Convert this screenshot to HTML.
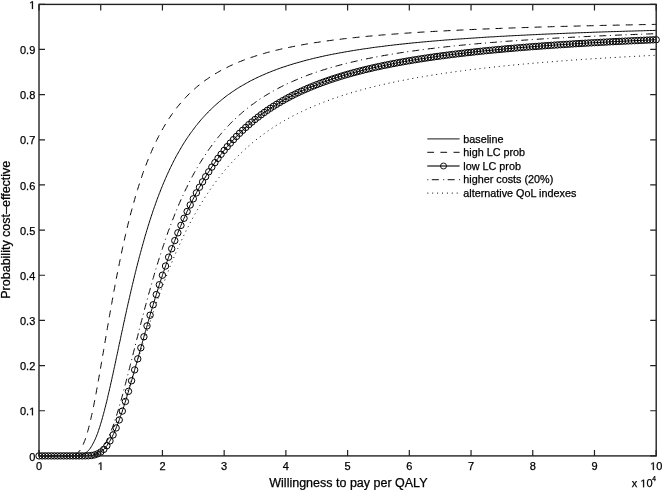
<!DOCTYPE html>
<html><head><meta charset="utf-8"><style>
html,body{margin:0;padding:0;background:#fff;}
body{width:662px;height:490px;overflow:hidden;}
svg{display:block;filter:grayscale(1);}
text{font-family:'Liberation Sans',sans-serif;fill:#000;stroke:#000;stroke-width:0.25px;}
</style></head><body>
<svg width="662" height="490" viewBox="0 0 662 490">
<rect x="0" y="0" width="662" height="490" fill="#fff"/>

<polyline fill="none" stroke="#000" stroke-width="1.0" stroke-linejoin="round" points="39.0,455.9 40.5,455.9 42.0,455.9 43.5,455.9 45.0,455.9 46.5,455.9 48.0,455.9 49.5,455.9 51.0,455.9 52.5,455.9 54.0,455.9 55.5,455.9 57.0,455.9 58.5,455.9 60.0,455.9 61.5,455.9 63.0,455.9 64.5,455.9 66.0,455.9 67.5,455.9 69.0,455.9 70.5,455.9 72.0,455.9 73.5,455.8 75.0,455.8 76.5,455.7 78.0,455.6 79.5,455.4 80.9,455.0 82.4,454.6 83.8,454.0 85.1,453.3 86.3,452.4 87.4,451.5 88.5,450.4 89.5,449.3 90.4,448.1 91.2,446.8 92.0,445.5 92.7,444.2 93.4,442.9 94.1,441.6 94.7,440.2 95.4,438.8 95.9,437.5 96.5,436.1 97.0,434.7 97.6,433.3 98.1,431.8 98.6,430.4 99.0,429.0 99.5,427.6 100.0,426.2 100.4,424.7 100.8,423.3 101.3,421.9 101.7,420.4 102.1,419.0 102.5,417.5 102.9,416.1 103.3,414.6 103.7,413.2 104.1,411.7 104.5,410.3 104.8,408.8 105.2,407.4 105.6,405.9 105.9,404.5 106.3,403.0 106.7,401.6 107.0,400.1 107.4,398.6 107.7,397.2 108.0,395.7 108.4,394.3 108.7,392.8 109.1,391.3 109.4,389.9 109.7,388.4 110.1,386.9 110.4,385.5 110.7,384.0 111.0,382.6 111.4,381.1 111.7,379.6 112.0,378.2 112.3,376.7 112.7,375.2 113.0,373.8 113.3,372.3 113.6,370.8 113.9,369.4 114.2,367.9 114.6,366.4 114.9,365.0 115.2,363.5 115.5,362.0 115.8,360.6 116.1,359.1 116.4,357.6 116.7,356.2 117.1,354.7 117.4,353.2 117.7,351.8 118.0,350.3 118.3,348.8 118.6,347.4 118.9,345.9 119.2,344.4 119.5,343.0 119.9,341.5 120.2,340.0 120.5,338.6 120.8,337.1 121.1,335.6 121.4,334.2 121.7,332.7 122.0,331.2 122.4,329.8 122.7,328.3 123.0,326.8 123.3,325.4 123.6,323.9 123.9,322.4 124.3,321.0 124.6,319.5 124.9,318.0 125.2,316.6 125.5,315.1 125.9,313.6 126.2,312.2 126.5,310.7 126.8,309.2 127.1,307.8 127.5,306.3 127.8,304.8 128.1,303.4 128.5,301.9 128.8,300.4 129.1,299.0 129.5,297.5 129.8,296.1 130.1,294.6 130.5,293.1 130.8,291.7 131.1,290.2 131.5,288.8 131.8,287.3 132.2,285.8 132.5,284.4 132.9,282.9 133.2,281.5 133.6,280.0 133.9,278.5 134.3,277.1 134.6,275.6 135.0,274.2 135.3,272.7 135.7,271.3 136.1,269.8 136.4,268.3 136.8,266.9 137.2,265.4 137.5,264.0 137.9,262.5 138.3,261.1 138.7,259.6 139.0,258.2 139.4,256.7 139.8,255.3 140.2,253.8 140.6,252.4 141.0,250.9 141.4,249.5 141.8,248.0 142.2,246.6 142.6,245.1 143.0,243.7 143.4,242.3 143.8,240.8 144.2,239.4 144.6,237.9 145.0,236.5 145.4,235.0 145.9,233.6 146.3,232.2 146.7,230.7 147.2,229.3 147.6,227.9 148.0,226.4 148.5,225.0 148.9,223.6 149.4,222.1 149.8,220.7 150.3,219.3 150.8,217.8 151.2,216.4 151.7,215.0 152.2,213.6 152.6,212.2 153.1,210.7 153.6,209.3 154.1,207.9 154.6,206.5 155.1,205.1 155.6,203.6 156.1,202.2 156.6,200.8 157.1,199.4 157.6,198.0 158.2,196.6 158.7,195.2 159.2,193.8 159.8,192.4 160.3,191.0 160.9,189.6 161.4,188.2 162.0,186.8 162.6,185.4 163.1,184.1 163.7,182.7 164.3,181.3 164.9,179.9 165.5,178.5 166.1,177.2 166.7,175.8 167.3,174.4 167.9,173.1 168.6,171.7 169.2,170.3 169.8,169.0 170.5,167.6 171.1,166.3 171.8,164.9 172.5,163.6 173.1,162.2 173.8,160.9 174.5,159.6 175.2,158.2 175.9,156.9 176.6,155.6 177.3,154.3 178.1,153.0 178.8,151.7 179.6,150.4 180.3,149.1 181.1,147.8 181.8,146.5 182.6,145.2 183.4,143.9 184.2,142.7 185.0,141.4 185.8,140.1 186.6,138.9 187.5,137.6 188.3,136.4 189.2,135.2 190.0,133.9 190.9,132.7 191.8,131.5 192.7,130.3 193.6,129.1 194.5,127.9 195.4,126.7 196.3,125.5 197.3,124.4 198.2,123.2 199.2,122.0 200.1,120.9 201.1,119.7 202.1,118.6 203.1,117.5 204.1,116.4 205.1,115.3 206.1,114.2 207.2,113.1 208.2,112.0 209.3,111.0 210.3,109.9 211.4,108.9 212.5,107.8 213.6,106.8 214.7,105.8 215.8,104.8 216.9,103.8 218.1,102.8 219.2,101.8 220.4,100.9 221.5,99.9 222.7,99.0 223.9,98.0 225.0,97.1 226.2,96.2 227.4,95.3 228.6,94.4 229.9,93.6 231.1,92.7 232.3,91.8 233.6,91.0 234.8,90.2 236.1,89.3 237.3,88.5 238.6,87.7 239.9,86.9 241.2,86.2 242.5,85.4 243.8,84.7 245.1,83.9 246.4,83.2 247.7,82.5 249.0,81.7 250.3,81.0 251.7,80.3 253.0,79.7 254.3,79.0 255.7,78.3 257.0,77.7 258.4,77.0 259.7,76.4 261.1,75.8 262.5,75.2 263.9,74.6 265.2,74.0 266.6,73.4 268.0,72.8 269.4,72.3 270.8,71.7 272.2,71.1 273.6,70.6 275.0,70.1 276.4,69.5 277.8,69.0 279.2,68.5 280.6,68.0 282.0,67.5 283.4,67.0 284.9,66.6 286.3,66.1 287.7,65.6 289.2,65.2 290.6,64.7 292.0,64.3 293.5,63.8 294.9,63.4 296.3,63.0 297.8,62.6 299.2,62.2 300.7,61.8 302.1,61.4 303.5,61.0 305.0,60.6 306.4,60.2 307.9,59.8 309.4,59.5 310.8,59.1 312.3,58.7 313.7,58.4 315.2,58.0 316.6,57.7 318.1,57.4 319.6,57.0 321.0,56.7 322.5,56.4 324.0,56.0 325.4,55.7 326.9,55.4 328.4,55.1 329.8,54.8 331.3,54.5 332.8,54.2 334.2,53.9 335.7,53.7 337.2,53.4 338.7,53.1 340.1,52.8 341.6,52.6 343.1,52.3 344.6,52.0 346.1,51.8 347.5,51.5 349.0,51.3 350.5,51.0 352.0,50.8 353.4,50.5 354.9,50.3 356.4,50.0 357.9,49.8 359.4,49.6 360.9,49.4 362.3,49.1 363.8,48.9 365.3,48.7 366.8,48.5 368.3,48.3 369.8,48.1 371.2,47.8 372.7,47.6 374.2,47.4 375.7,47.2 377.2,47.0 378.7,46.8 380.2,46.7 381.7,46.5 383.1,46.3 384.6,46.1 386.1,45.9 387.6,45.7 389.1,45.5 390.6,45.4 392.1,45.2 393.6,45.0 395.1,44.8 396.5,44.7 398.0,44.5 399.5,44.3 401.0,44.2 402.5,44.0 404.0,43.9 405.5,43.7 407.0,43.5 408.5,43.4 410.0,43.2 411.5,43.1 413.0,42.9 414.4,42.8 415.9,42.6 417.4,42.5 418.9,42.4 420.4,42.2 421.9,42.1 423.4,41.9 424.9,41.8 426.4,41.7 427.9,41.5 429.4,41.4 430.9,41.3 432.4,41.1 433.9,41.0 435.4,40.9 436.9,40.8 438.4,40.6 439.8,40.5 441.3,40.4 442.8,40.3 444.3,40.1 445.8,40.0 447.3,39.9 448.8,39.8 450.3,39.7 451.8,39.6 453.3,39.4 454.8,39.3 456.3,39.2 457.8,39.1 459.3,39.0 460.8,38.9 462.3,38.8 463.8,38.7 465.3,38.6 466.8,38.5 468.3,38.4 469.8,38.3 471.3,38.2 472.8,38.1 474.3,38.0 475.7,37.9 477.2,37.8 478.7,37.7 480.2,37.6 481.7,37.5 483.2,37.4 484.7,37.3 486.2,37.2 487.7,37.1 489.2,37.0 490.7,36.9 492.2,36.9 493.7,36.8 495.2,36.7 496.7,36.6 498.2,36.5 499.7,36.4 501.2,36.3 502.7,36.3 504.2,36.2 505.7,36.1 507.2,36.0 508.7,35.9 510.2,35.8 511.7,35.8 513.2,35.7 514.7,35.6 516.2,35.5 517.7,35.5 519.2,35.4 520.7,35.3 522.2,35.2 523.7,35.2 525.2,35.1 526.7,35.0 528.2,34.9 529.7,34.9 531.2,34.8 532.7,34.7 534.2,34.7 535.7,34.6 537.2,34.5 538.7,34.4 540.2,34.4 541.7,34.3 543.1,34.2 544.6,34.2 546.1,34.1 547.6,34.0 549.1,34.0 550.6,33.9 552.1,33.9 553.6,33.8 555.1,33.7 556.6,33.7 558.1,33.6 559.6,33.5 561.1,33.5 562.6,33.4 564.1,33.4 565.6,33.3 567.1,33.2 568.6,33.2 570.1,33.1 571.6,33.1 573.1,33.0 574.6,33.0 576.1,32.9 577.6,32.8 579.1,32.8 580.6,32.7 582.1,32.7 583.6,32.6 585.1,32.6 586.6,32.5 588.1,32.5 589.6,32.4 591.1,32.4 592.6,32.3 594.1,32.2 595.6,32.2 597.1,32.1 598.6,32.1 600.1,32.0 601.6,32.0 603.1,31.9 604.6,31.9 606.1,31.8 607.6,31.8 609.1,31.7 610.6,31.7 612.1,31.6 613.6,31.6 615.1,31.6 616.6,31.5 618.1,31.5 619.6,31.4 621.1,31.4 622.6,31.3 624.1,31.3 625.6,31.2 627.1,31.2 628.6,31.1 630.1,31.1 631.6,31.1 633.1,31.0 634.6,31.0 636.1,30.9 637.6,30.9 639.1,30.8 640.6,30.8 642.1,30.8 643.6,30.7 645.1,30.7 646.6,30.6 648.1,30.6 649.6,30.5 651.1,30.5 652.6,30.5 654.1,30.4 655.6,30.4 656.2,30.4"/>
<polyline fill="none" stroke="#000" stroke-width="1.0" stroke-linejoin="round" stroke-dasharray="7 6.03" stroke-dashoffset="2.86" points="39.0,455.9 40.5,455.9 42.0,455.9 43.5,455.9 45.0,455.9 46.5,455.9 48.0,455.9 49.5,455.9 51.0,455.9 52.5,455.9 54.0,455.9 55.5,455.9 57.0,455.9 58.5,455.9 60.0,455.9 61.5,455.9 63.0,455.9 64.5,455.9 66.0,455.9 67.5,455.9 69.0,455.8 70.5,455.7 72.0,455.5 73.4,455.2 74.9,454.7 76.2,454.0 77.4,453.2 78.5,452.1 79.5,451.0 80.4,449.8 81.2,448.5 81.9,447.2 82.6,445.9 83.2,444.5 83.8,443.1 84.3,441.7 84.9,440.3 85.4,438.9 85.8,437.5 86.3,436.1 86.8,434.6 87.2,433.2 87.6,431.7 88.0,430.3 88.4,428.9 88.8,427.4 89.1,426.0 89.5,424.5 89.9,423.0 90.2,421.6 90.6,420.1 90.9,418.7 91.2,417.2 91.5,415.7 91.9,414.3 92.2,412.8 92.5,411.3 92.8,409.9 93.1,408.4 93.4,406.9 93.7,405.5 94.0,404.0 94.3,402.5 94.6,401.0 94.9,399.6 95.1,398.1 95.4,396.6 95.7,395.1 96.0,393.7 96.3,392.2 96.5,390.7 96.8,389.2 97.1,387.8 97.3,386.3 97.6,384.8 97.9,383.3 98.1,381.9 98.4,380.4 98.7,378.9 98.9,377.4 99.2,376.0 99.4,374.5 99.7,373.0 100.0,371.5 100.2,370.0 100.5,368.6 100.7,367.1 101.0,365.6 101.2,364.1 101.5,362.7 101.7,361.2 102.0,359.7 102.2,358.2 102.5,356.7 102.7,355.3 103.0,353.8 103.3,352.3 103.5,350.8 103.8,349.3 104.0,347.9 104.3,346.4 104.5,344.9 104.8,343.4 105.0,342.0 105.3,340.5 105.5,339.0 105.8,337.5 106.0,336.0 106.3,334.6 106.5,333.1 106.8,331.6 107.0,330.1 107.3,328.6 107.5,327.2 107.8,325.7 108.1,324.2 108.3,322.7 108.6,321.3 108.8,319.8 109.1,318.3 109.3,316.8 109.6,315.3 109.9,313.9 110.1,312.4 110.4,310.9 110.6,309.4 110.9,308.0 111.2,306.5 111.4,305.0 111.7,303.5 112.0,302.1 112.2,300.6 112.5,299.1 112.8,297.6 113.0,296.2 113.3,294.7 113.6,293.2 113.8,291.7 114.1,290.3 114.4,288.8 114.7,287.3 114.9,285.8 115.2,284.4 115.5,282.9 115.8,281.4 116.1,279.9 116.3,278.5 116.6,277.0 116.9,275.5 117.2,274.0 117.5,272.6 117.8,271.1 118.1,269.6 118.4,268.2 118.7,266.7 119.0,265.2 119.3,263.7 119.6,262.3 119.9,260.8 120.2,259.3 120.5,257.9 120.8,256.4 121.1,254.9 121.4,253.5 121.7,252.0 122.0,250.5 122.3,249.1 122.6,247.6 123.0,246.1 123.3,244.7 123.6,243.2 123.9,241.7 124.3,240.3 124.6,238.8 124.9,237.3 125.3,235.9 125.6,234.4 126.0,233.0 126.3,231.5 126.6,230.0 127.0,228.6 127.3,227.1 127.7,225.7 128.0,224.2 128.4,222.8 128.8,221.3 129.1,219.8 129.5,218.4 129.9,216.9 130.2,215.5 130.6,214.0 131.0,212.6 131.4,211.1 131.8,209.7 132.2,208.2 132.6,206.8 133.0,205.3 133.4,203.9 133.8,202.5 134.2,201.0 134.6,199.6 135.0,198.1 135.4,196.7 135.8,195.2 136.3,193.8 136.7,192.4 137.1,190.9 137.6,189.5 138.0,188.1 138.5,186.6 138.9,185.2 139.4,183.8 139.9,182.4 140.3,180.9 140.8,179.5 141.3,178.1 141.8,176.7 142.2,175.2 142.7,173.8 143.2,172.4 143.7,171.0 144.3,169.6 144.8,168.2 145.3,166.8 145.8,165.4 146.4,164.0 146.9,162.6 147.5,161.2 148.0,159.8 148.6,158.4 149.1,157.0 149.7,155.6 150.3,154.2 150.9,152.9 151.5,151.5 152.1,150.1 152.7,148.7 153.3,147.4 153.9,146.0 154.6,144.6 155.2,143.3 155.9,141.9 156.5,140.6 157.2,139.2 157.9,137.9 158.5,136.6 159.2,135.2 159.9,133.9 160.6,132.6 161.4,131.3 162.1,130.0 162.8,128.7 163.6,127.4 164.3,126.1 165.1,124.8 165.9,123.5 166.7,122.2 167.5,121.0 168.3,119.7 169.1,118.4 169.9,117.2 170.8,116.0 171.6,114.7 172.5,113.5 173.4,112.3 174.3,111.1 175.2,109.9 176.1,108.7 177.0,107.5 177.9,106.3 178.9,105.2 179.8,104.0 180.8,102.9 181.8,101.7 182.8,100.6 183.8,99.5 184.8,98.4 185.8,97.3 186.9,96.2 187.9,95.1 189.0,94.1 190.1,93.0 191.1,92.0 192.2,91.0 193.3,90.0 194.5,89.0 195.6,88.0 196.7,87.0 197.9,86.0 199.1,85.1 200.2,84.2 201.4,83.2 202.6,82.3 203.8,81.4 205.0,80.5 206.2,79.7 207.5,78.8 208.7,78.0 209.9,77.1 211.2,76.3 212.5,75.5 213.7,74.7 215.0,73.9 216.3,73.2 217.6,72.4 218.9,71.7 220.2,70.9 221.5,70.2 222.9,69.5 224.2,68.8 225.5,68.1 226.9,67.5 228.2,66.8 229.6,66.1 230.9,65.5 232.3,64.9 233.7,64.3 235.0,63.7 236.4,63.1 237.8,62.5 239.2,61.9 240.6,61.4 242.0,60.8 243.4,60.3 244.8,59.7 246.2,59.2 247.6,58.7 249.0,58.2 250.4,57.7 251.8,57.2 253.3,56.8 254.7,56.3 256.1,55.8 257.5,55.4 259.0,54.9 260.4,54.5 261.8,54.1 263.3,53.7 264.7,53.3 266.2,52.8 267.6,52.4 269.1,52.1 270.5,51.7 272.0,51.3 273.4,50.9 274.9,50.6 276.3,50.2 277.8,49.9 279.3,49.5 280.7,49.2 282.2,48.8 283.6,48.5 285.1,48.2 286.6,47.9 288.0,47.6 289.5,47.3 291.0,47.0 292.4,46.7 293.9,46.4 295.4,46.1 296.9,45.8 298.3,45.5 299.8,45.2 301.3,45.0 302.8,44.7 304.2,44.5 305.7,44.2 307.2,43.9 308.7,43.7 310.2,43.4 311.6,43.2 313.1,43.0 314.6,42.7 316.1,42.5 317.6,42.3 319.1,42.1 320.5,41.8 322.0,41.6 323.5,41.4 325.0,41.2 326.5,41.0 328.0,40.8 329.4,40.6 330.9,40.4 332.4,40.2 333.9,40.0 335.4,39.8 336.9,39.6 338.4,39.4 339.9,39.3 341.4,39.1 342.8,38.9 344.3,38.7 345.8,38.6 347.3,38.4 348.8,38.2 350.3,38.1 351.8,37.9 353.3,37.7 354.8,37.6 356.3,37.4 357.8,37.3 359.2,37.1 360.7,37.0 362.2,36.8 363.7,36.7 365.2,36.5 366.7,36.4 368.2,36.2 369.7,36.1 371.2,36.0 372.7,35.8 374.2,35.7 375.7,35.6 377.2,35.4 378.7,35.3 380.2,35.2 381.6,35.0 383.1,34.9 384.6,34.8 386.1,34.7 387.6,34.6 389.1,34.4 390.6,34.3 392.1,34.2 393.6,34.1 395.1,34.0 396.6,33.9 398.1,33.8 399.6,33.6 401.1,33.5 402.6,33.4 404.1,33.3 405.6,33.2 407.1,33.1 408.6,33.0 410.1,32.9 411.6,32.8 413.1,32.7 414.6,32.6 416.1,32.5 417.6,32.4 419.0,32.3 420.5,32.2 422.0,32.1 423.5,32.0 425.0,32.0 426.5,31.9 428.0,31.8 429.5,31.7 431.0,31.6 432.5,31.5 434.0,31.4 435.5,31.3 437.0,31.3 438.5,31.2 440.0,31.1 441.5,31.0 443.0,30.9 444.5,30.9 446.0,30.8 447.5,30.7 449.0,30.6 450.5,30.6 452.0,30.5 453.5,30.4 455.0,30.3 456.5,30.3 458.0,30.2 459.5,30.1 461.0,30.0 462.5,30.0 464.0,29.9 465.5,29.8 467.0,29.8 468.5,29.7 470.0,29.6 471.5,29.6 473.0,29.5 474.5,29.4 476.0,29.4 477.5,29.3 479.0,29.2 480.5,29.2 482.0,29.1 483.5,29.0 485.0,29.0 486.5,28.9 488.0,28.9 489.5,28.8 491.0,28.7 492.5,28.7 494.0,28.6 495.5,28.6 497.0,28.5 498.5,28.5 500.0,28.4 501.5,28.3 503.0,28.3 504.4,28.2 505.9,28.2 507.4,28.1 508.9,28.1 510.4,28.0 511.9,28.0 513.4,27.9 514.9,27.9 516.4,27.8 517.9,27.8 519.4,27.7 520.9,27.7 522.4,27.6 523.9,27.6 525.4,27.5 526.9,27.5 528.4,27.4 529.9,27.4 531.4,27.3 532.9,27.3 534.4,27.2 535.9,27.2 537.4,27.1 538.9,27.1 540.4,27.0 541.9,27.0 543.4,26.9 544.9,26.9 546.4,26.9 547.9,26.8 549.4,26.8 550.9,26.7 552.4,26.7 553.9,26.6 555.4,26.6 556.9,26.6 558.4,26.5 559.9,26.5 561.4,26.4 562.9,26.4 564.4,26.4 565.9,26.3 567.4,26.3 568.9,26.2 570.4,26.2 571.9,26.2 573.4,26.1 574.9,26.1 576.4,26.1 577.9,26.0 579.4,26.0 580.9,25.9 582.4,25.9 583.9,25.9 585.4,25.8 586.9,25.8 588.4,25.8 589.9,25.7 591.4,25.7 592.9,25.7 594.4,25.6 595.9,25.6 597.4,25.5 598.9,25.5 600.4,25.5 601.9,25.4 603.4,25.4 604.9,25.4 606.4,25.3 607.9,25.3 609.4,25.3 610.9,25.3 612.4,25.2 613.9,25.2 615.4,25.2 616.9,25.1 618.4,25.1 619.9,25.1 621.4,25.0 622.9,25.0 624.4,25.0 625.9,24.9 627.4,24.9 628.9,24.9 630.4,24.9 631.9,24.8 633.4,24.8 634.9,24.8 636.4,24.7 637.9,24.7 639.4,24.7 640.9,24.6 642.4,24.6 643.9,24.6 645.4,24.6 646.9,24.5 648.4,24.5 649.9,24.5 651.4,24.5 652.9,24.4 654.4,24.4 655.9,24.4 656.2,24.4"/>
<polyline fill="none" stroke="#000" stroke-width="1.0" stroke-linejoin="round" stroke-dasharray="7 3.6 1 4.05" stroke-dashoffset="8.20" points="39.0,455.9 40.5,455.9 42.0,455.9 43.5,455.9 45.0,455.9 46.5,455.9 48.0,455.9 49.5,455.9 51.0,455.9 52.5,455.9 54.0,455.9 55.5,455.9 57.0,455.9 58.5,455.9 60.0,455.9 61.5,455.9 63.0,455.9 64.5,455.9 66.0,455.9 67.5,455.9 69.0,455.9 70.5,455.9 72.0,455.9 73.5,455.9 75.0,455.9 76.5,455.9 78.0,455.9 79.5,455.9 81.0,455.9 82.5,455.9 84.0,455.9 85.5,455.8 87.0,455.8 88.5,455.7 90.0,455.5 91.5,455.2 92.9,454.8 94.3,454.3 95.7,453.7 97.0,453.0 98.2,452.1 99.4,451.1 100.4,450.1 101.4,449.0 102.4,447.8 103.3,446.6 104.1,445.4 104.9,444.1 105.7,442.8 106.4,441.5 107.1,440.1 107.7,438.8 108.4,437.4 109.0,436.1 109.6,434.7 110.2,433.3 110.8,431.9 111.3,430.5 111.8,429.1 112.4,427.7 112.9,426.3 113.4,424.9 113.9,423.5 114.4,422.1 114.9,420.7 115.3,419.2 115.8,417.8 116.3,416.4 116.7,415.0 117.2,413.5 117.6,412.1 118.0,410.7 118.5,409.2 118.9,407.8 119.3,406.3 119.7,404.9 120.1,403.5 120.6,402.0 121.0,400.6 121.4,399.1 121.8,397.7 122.2,396.2 122.6,394.8 123.0,393.3 123.4,391.9 123.7,390.4 124.1,389.0 124.5,387.5 124.9,386.1 125.3,384.6 125.7,383.2 126.0,381.7 126.4,380.3 126.8,378.8 127.2,377.4 127.5,375.9 127.9,374.5 128.3,373.0 128.7,371.6 129.0,370.1 129.4,368.7 129.8,367.2 130.1,365.8 130.5,364.3 130.9,362.9 131.2,361.4 131.6,359.9 132.0,358.5 132.3,357.0 132.7,355.6 133.1,354.1 133.4,352.7 133.8,351.2 134.2,349.8 134.5,348.3 134.9,346.9 135.3,345.4 135.6,343.9 136.0,342.5 136.4,341.0 136.7,339.6 137.1,338.1 137.5,336.7 137.9,335.2 138.2,333.8 138.6,332.3 139.0,330.9 139.3,329.4 139.7,328.0 140.1,326.5 140.5,325.0 140.8,323.6 141.2,322.1 141.6,320.7 142.0,319.2 142.3,317.8 142.7,316.3 143.1,314.9 143.5,313.4 143.9,312.0 144.2,310.5 144.6,309.1 145.0,307.6 145.4,306.2 145.8,304.7 146.2,303.3 146.6,301.8 147.0,300.4 147.4,298.9 147.8,297.5 148.1,296.0 148.5,294.6 148.9,293.2 149.4,291.7 149.8,290.3 150.2,288.8 150.6,287.4 151.0,285.9 151.4,284.5 151.8,283.1 152.2,281.6 152.6,280.2 153.0,278.7 153.5,277.3 153.9,275.8 154.3,274.4 154.7,273.0 155.2,271.5 155.6,270.1 156.0,268.7 156.5,267.2 156.9,265.8 157.3,264.4 157.8,262.9 158.2,261.5 158.7,260.1 159.1,258.6 159.6,257.2 160.0,255.8 160.5,254.3 161.0,252.9 161.4,251.5 161.9,250.1 162.4,248.6 162.8,247.2 163.3,245.8 163.8,244.4 164.3,242.9 164.7,241.5 165.2,240.1 165.7,238.7 166.2,237.3 166.7,235.9 167.2,234.4 167.7,233.0 168.2,231.6 168.7,230.2 169.3,228.8 169.8,227.4 170.3,226.0 170.8,224.6 171.4,223.2 171.9,221.8 172.4,220.4 173.0,219.0 173.5,217.6 174.1,216.2 174.6,214.8 175.2,213.4 175.8,212.0 176.3,210.6 176.9,209.2 177.5,207.9 178.1,206.5 178.6,205.1 179.2,203.7 179.8,202.3 180.4,201.0 181.0,199.6 181.7,198.2 182.3,196.9 182.9,195.5 183.5,194.1 184.2,192.8 184.8,191.4 185.4,190.1 186.1,188.7 186.8,187.4 187.4,186.0 188.1,184.7 188.8,183.3 189.4,182.0 190.1,180.7 190.8,179.3 191.5,178.0 192.2,176.7 192.9,175.4 193.6,174.0 194.4,172.7 195.1,171.4 195.8,170.1 196.6,168.8 197.3,167.5 198.1,166.2 198.9,164.9 199.6,163.6 200.4,162.4 201.2,161.1 202.0,159.8 202.8,158.6 203.6,157.3 204.4,156.0 205.3,154.8 206.1,153.5 206.9,152.3 207.8,151.1 208.6,149.8 209.5,148.6 210.4,147.4 211.3,146.2 212.1,145.0 213.0,143.8 214.0,142.6 214.9,141.4 215.8,140.2 216.7,139.0 217.7,137.8 218.6,136.7 219.6,135.5 220.5,134.4 221.5,133.2 222.5,132.1 223.5,131.0 224.5,129.9 225.5,128.7 226.5,127.6 227.5,126.5 228.6,125.5 229.6,124.4 230.6,123.3 231.7,122.2 232.8,121.2 233.8,120.1 234.9,119.1 236.0,118.1 237.1,117.1 238.2,116.0 239.3,115.0 240.5,114.1 241.6,113.1 242.7,112.1 243.9,111.1 245.0,110.2 246.2,109.2 247.4,108.3 248.6,107.4 249.7,106.4 250.9,105.5 252.1,104.6 253.4,103.8 254.6,102.9 255.8,102.0 257.0,101.1 258.3,100.3 259.5,99.4 260.7,98.6 262.0,97.8 263.3,97.0 264.5,96.2 265.8,95.4 267.1,94.6 268.4,93.8 269.7,93.1 271.0,92.3 272.3,91.6 273.6,90.8 274.9,90.1 276.2,89.4 277.5,88.7 278.8,88.0 280.2,87.3 281.5,86.6 282.9,85.9 284.2,85.3 285.5,84.6 286.9,84.0 288.3,83.3 289.6,82.7 291.0,82.1 292.4,81.5 293.7,80.9 295.1,80.3 296.5,79.7 297.9,79.1 299.3,78.5 300.6,78.0 302.0,77.4 303.4,76.9 304.8,76.3 306.2,75.8 307.6,75.3 309.0,74.7 310.5,74.2 311.9,73.7 313.3,73.2 314.7,72.7 316.1,72.3 317.5,71.8 319.0,71.3 320.4,70.8 321.8,70.4 323.2,69.9 324.7,69.5 326.1,69.0 327.5,68.6 329.0,68.2 330.4,67.7 331.9,67.3 333.3,66.9 334.8,66.5 336.2,66.1 337.6,65.7 339.1,65.3 340.5,64.9 342.0,64.6 343.4,64.2 344.9,63.8 346.4,63.4 347.8,63.1 349.3,62.7 350.7,62.4 352.2,62.0 353.6,61.7 355.1,61.4 356.6,61.0 358.0,60.7 359.5,60.4 361.0,60.0 362.4,59.7 363.9,59.4 365.4,59.1 366.8,58.8 368.3,58.5 369.8,58.2 371.2,57.9 372.7,57.6 374.2,57.3 375.7,57.1 377.1,56.8 378.6,56.5 380.1,56.2 381.6,56.0 383.0,55.7 384.5,55.4 386.0,55.2 387.5,54.9 388.9,54.7 390.4,54.4 391.9,54.2 393.4,53.9 394.9,53.7 396.3,53.4 397.8,53.2 399.3,53.0 400.8,52.7 402.3,52.5 403.8,52.3 405.2,52.1 406.7,51.8 408.2,51.6 409.7,51.4 411.2,51.2 412.7,51.0 414.1,50.8 415.6,50.6 417.1,50.4 418.6,50.2 420.1,50.0 421.6,49.8 423.1,49.6 424.6,49.4 426.0,49.2 427.5,49.0 429.0,48.8 430.5,48.6 432.0,48.5 433.5,48.3 435.0,48.1 436.5,47.9 438.0,47.7 439.4,47.6 440.9,47.4 442.4,47.2 443.9,47.1 445.4,46.9 446.9,46.7 448.4,46.6 449.9,46.4 451.4,46.3 452.9,46.1 454.4,45.9 455.8,45.8 457.3,45.6 458.8,45.5 460.3,45.3 461.8,45.2 463.3,45.0 464.8,44.9 466.3,44.7 467.8,44.6 469.3,44.5 470.8,44.3 472.3,44.2 473.8,44.0 475.3,43.9 476.8,43.8 478.2,43.6 479.7,43.5 481.2,43.4 482.7,43.2 484.2,43.1 485.7,43.0 487.2,42.9 488.7,42.7 490.2,42.6 491.7,42.5 493.2,42.4 494.7,42.3 496.2,42.1 497.7,42.0 499.2,41.9 500.7,41.8 502.2,41.7 503.7,41.6 505.2,41.4 506.7,41.3 508.1,41.2 509.6,41.1 511.1,41.0 512.6,40.9 514.1,40.8 515.6,40.7 517.1,40.6 518.6,40.5 520.1,40.4 521.6,40.3 523.1,40.2 524.6,40.1 526.1,40.0 527.6,39.9 529.1,39.8 530.6,39.7 532.1,39.6 533.6,39.5 535.1,39.4 536.6,39.3 538.1,39.2 539.6,39.1 541.1,39.0 542.6,38.9 544.1,38.8 545.6,38.7 547.1,38.6 548.6,38.6 550.1,38.5 551.6,38.4 553.1,38.3 554.5,38.2 556.0,38.1 557.5,38.0 559.0,38.0 560.5,37.9 562.0,37.8 563.5,37.7 565.0,37.6 566.5,37.5 568.0,37.5 569.5,37.4 571.0,37.3 572.5,37.2 574.0,37.2 575.5,37.1 577.0,37.0 578.5,36.9 580.0,36.9 581.5,36.8 583.0,36.7 584.5,36.6 586.0,36.6 587.5,36.5 589.0,36.4 590.5,36.3 592.0,36.3 593.5,36.2 595.0,36.1 596.5,36.1 598.0,36.0 599.5,35.9 601.0,35.9 602.5,35.8 604.0,35.7 605.5,35.7 607.0,35.6 608.5,35.5 610.0,35.5 611.5,35.4 613.0,35.3 614.5,35.3 616.0,35.2 617.5,35.1 619.0,35.1 620.5,35.0 622.0,35.0 623.5,34.9 625.0,34.8 626.5,34.8 628.0,34.7 629.5,34.7 631.0,34.6 632.5,34.5 634.0,34.5 635.5,34.4 637.0,34.4 638.5,34.3 640.0,34.3 641.5,34.2 643.0,34.1 644.5,34.1 646.0,34.0 647.5,34.0 648.9,33.9 650.4,33.9 651.9,33.8 653.4,33.8 654.9,33.7 656.2,33.7"/>
<polyline fill="none" stroke="#000" stroke-width="1.0" stroke-linejoin="round" stroke-dasharray="1 3.85" stroke-dashoffset="2.71" points="39.0,455.9 40.5,455.9 42.0,455.9 43.5,455.9 45.0,455.9 46.5,455.9 48.0,455.9 49.5,455.9 51.0,455.9 52.5,455.9 54.0,455.9 55.5,455.9 57.0,455.9 58.5,455.9 60.0,455.9 61.5,455.9 63.0,455.9 64.5,455.9 66.0,455.9 67.5,455.9 69.0,455.9 70.5,455.9 72.0,455.9 73.5,455.9 75.0,455.9 76.5,455.9 78.0,455.9 79.5,455.9 81.0,455.8 82.5,455.8 84.0,455.7 85.5,455.6 87.0,455.5 88.5,455.3 89.9,455.0 91.4,454.6 92.8,454.1 94.2,453.6 95.6,452.9 96.8,452.1 98.1,451.3 99.3,450.4 100.4,449.4 101.4,448.3 102.5,447.2 103.4,446.1 104.4,444.9 105.3,443.7 106.1,442.4 106.9,441.2 107.7,439.9 108.5,438.6 109.2,437.3 110.0,436.0 110.7,434.7 111.3,433.4 112.0,432.0 112.7,430.7 113.3,429.3 113.9,427.9 114.5,426.6 115.1,425.2 115.7,423.8 116.3,422.4 116.9,421.1 117.5,419.7 118.0,418.3 118.6,416.9 119.1,415.5 119.7,414.1 120.2,412.7 120.7,411.3 121.2,409.9 121.7,408.5 122.3,407.0 122.8,405.6 123.3,404.2 123.8,402.8 124.3,401.4 124.7,400.0 125.2,398.6 125.7,397.1 126.2,395.7 126.7,394.3 127.2,392.9 127.6,391.4 128.1,390.0 128.6,388.6 129.0,387.2 129.5,385.7 130.0,384.3 130.4,382.9 130.9,381.5 131.4,380.0 131.8,378.6 132.3,377.2 132.7,375.8 133.2,374.3 133.7,372.9 134.1,371.5 134.6,370.0 135.0,368.6 135.5,367.2 135.9,365.8 136.4,364.3 136.8,362.9 137.3,361.5 137.7,360.0 138.2,358.6 138.7,357.2 139.1,355.7 139.6,354.3 140.0,352.9 140.5,351.5 140.9,350.0 141.4,348.6 141.8,347.2 142.3,345.7 142.7,344.3 143.2,342.9 143.7,341.4 144.1,340.0 144.6,338.6 145.0,337.2 145.5,335.7 146.0,334.3 146.4,332.9 146.9,331.5 147.3,330.0 147.8,328.6 148.3,327.2 148.7,325.8 149.2,324.3 149.7,322.9 150.2,321.5 150.6,320.1 151.1,318.6 151.6,317.2 152.1,315.8 152.5,314.4 153.0,312.9 153.5,311.5 154.0,310.1 154.5,308.7 155.0,307.3 155.4,305.9 155.9,304.4 156.4,303.0 156.9,301.6 157.4,300.2 157.9,298.8 158.4,297.4 158.9,295.9 159.4,294.5 159.9,293.1 160.5,291.7 161.0,290.3 161.5,288.9 162.0,287.5 162.5,286.1 163.1,284.7 163.6,283.3 164.1,281.9 164.6,280.5 165.2,279.1 165.7,277.7 166.3,276.3 166.8,274.9 167.3,273.5 167.9,272.1 168.4,270.7 169.0,269.3 169.6,267.9 170.1,266.5 170.7,265.1 171.3,263.7 171.8,262.3 172.4,261.0 173.0,259.6 173.6,258.2 174.1,256.8 174.7,255.4 175.3,254.1 175.9,252.7 176.5,251.3 177.1,249.9 177.7,248.6 178.4,247.2 179.0,245.8 179.6,244.5 180.2,243.1 180.8,241.7 181.5,240.4 182.1,239.0 182.8,237.7 183.4,236.3 184.1,235.0 184.7,233.6 185.4,232.3 186.0,230.9 186.7,229.6 187.4,228.2 188.1,226.9 188.8,225.6 189.4,224.2 190.1,222.9 190.8,221.6 191.6,220.3 192.3,218.9 193.0,217.6 193.7,216.3 194.4,215.0 195.2,213.7 195.9,212.4 196.6,211.1 197.4,209.8 198.2,208.5 198.9,207.2 199.7,205.9 200.5,204.6 201.2,203.3 202.0,202.1 202.8,200.8 203.6,199.5 204.4,198.2 205.2,197.0 206.0,195.7 206.9,194.5 207.7,193.2 208.5,192.0 209.4,190.7 210.2,189.5 211.1,188.3 212.0,187.0 212.8,185.8 213.7,184.6 214.6,183.4 215.5,182.2 216.4,181.0 217.3,179.8 218.2,178.6 219.1,177.4 220.0,176.2 221.0,175.1 221.9,173.9 222.9,172.7 223.8,171.6 224.8,170.4 225.7,169.3 226.7,168.1 227.7,167.0 228.7,165.9 229.7,164.8 230.7,163.7 231.7,162.5 232.7,161.4 233.8,160.4 234.8,159.3 235.8,158.2 236.9,157.1 238.0,156.1 239.0,155.0 240.1,153.9 241.2,152.9 242.3,151.9 243.3,150.8 244.4,149.8 245.6,148.8 246.7,147.8 247.8,146.8 248.9,145.8 250.1,144.8 251.2,143.9 252.3,142.9 253.5,141.9 254.7,141.0 255.8,140.1 257.0,139.1 258.2,138.2 259.4,137.3 260.6,136.4 261.8,135.5 263.0,134.6 264.2,133.7 265.4,132.8 266.6,132.0 267.8,131.1 269.1,130.2 270.3,129.4 271.6,128.6 272.8,127.7 274.1,126.9 275.3,126.1 276.6,125.3 277.9,124.5 279.2,123.7 280.4,123.0 281.7,122.2 283.0,121.4 284.3,120.7 285.6,119.9 286.9,119.2 288.2,118.5 289.6,117.7 290.9,117.0 292.2,116.3 293.5,115.6 294.9,114.9 296.2,114.3 297.5,113.6 298.9,112.9 300.2,112.3 301.6,111.6 302.9,111.0 304.3,110.3 305.7,109.7 307.0,109.1 308.4,108.5 309.8,107.9 311.1,107.3 312.5,106.7 313.9,106.1 315.3,105.5 316.7,104.9 318.1,104.4 319.5,103.8 320.8,103.2 322.2,102.7 323.6,102.2 325.0,101.6 326.4,101.1 327.9,100.6 329.3,100.1 330.7,99.5 332.1,99.0 333.5,98.5 334.9,98.1 336.3,97.6 337.8,97.1 339.2,96.6 340.6,96.1 342.0,95.7 343.5,95.2 344.9,94.8 346.3,94.3 347.8,93.9 349.2,93.4 350.6,93.0 352.1,92.6 353.5,92.1 354.9,91.7 356.4,91.3 357.8,90.9 359.3,90.5 360.7,90.1 362.2,89.7 363.6,89.3 365.1,88.9 366.5,88.6 368.0,88.2 369.4,87.8 370.9,87.4 372.3,87.1 373.8,86.7 375.2,86.3 376.7,86.0 378.2,85.6 379.6,85.3 381.1,85.0 382.5,84.6 384.0,84.3 385.5,84.0 386.9,83.6 388.4,83.3 389.9,83.0 391.3,82.7 392.8,82.4 394.3,82.1 395.7,81.7 397.2,81.4 398.7,81.1 400.1,80.8 401.6,80.6 403.1,80.3 404.5,80.0 406.0,79.7 407.5,79.4 409.0,79.1 410.4,78.9 411.9,78.6 413.4,78.3 414.9,78.1 416.3,77.8 417.8,77.5 419.3,77.3 420.8,77.0 422.3,76.8 423.7,76.5 425.2,76.3 426.7,76.0 428.2,75.8 429.7,75.5 431.1,75.3 432.6,75.1 434.1,74.8 435.6,74.6 437.1,74.4 438.5,74.1 440.0,73.9 441.5,73.7 443.0,73.5 444.5,73.2 446.0,73.0 447.5,72.8 448.9,72.6 450.4,72.4 451.9,72.2 453.4,72.0 454.9,71.8 456.4,71.6 457.9,71.4 459.3,71.2 460.8,71.0 462.3,70.8 463.8,70.6 465.3,70.4 466.8,70.2 468.3,70.0 469.8,69.8 471.2,69.6 472.7,69.5 474.2,69.3 475.7,69.1 477.2,68.9 478.7,68.8 480.2,68.6 481.7,68.4 483.2,68.2 484.6,68.1 486.1,67.9 487.6,67.7 489.1,67.6 490.6,67.4 492.1,67.2 493.6,67.1 495.1,66.9 496.6,66.8 498.1,66.6 499.6,66.4 501.1,66.3 502.5,66.1 504.0,66.0 505.5,65.8 507.0,65.7 508.5,65.5 510.0,65.4 511.5,65.2 513.0,65.1 514.5,64.9 516.0,64.8 517.5,64.7 519.0,64.5 520.5,64.4 522.0,64.2 523.4,64.1 524.9,64.0 526.4,63.8 527.9,63.7 529.4,63.6 530.9,63.4 532.4,63.3 533.9,63.2 535.4,63.1 536.9,62.9 538.4,62.8 539.9,62.7 541.4,62.5 542.9,62.4 544.4,62.3 545.9,62.2 547.4,62.1 548.9,61.9 550.3,61.8 551.8,61.7 553.3,61.6 554.8,61.5 556.3,61.4 557.8,61.2 559.3,61.1 560.8,61.0 562.3,60.9 563.8,60.8 565.3,60.7 566.8,60.6 568.3,60.5 569.8,60.4 571.3,60.2 572.8,60.1 574.3,60.0 575.8,59.9 577.3,59.8 578.8,59.7 580.3,59.6 581.8,59.5 583.3,59.4 584.8,59.3 586.3,59.2 587.8,59.1 589.2,59.0 590.7,58.9 592.2,58.8 593.7,58.7 595.2,58.6 596.7,58.5 598.2,58.4 599.7,58.4 601.2,58.3 602.7,58.2 604.2,58.1 605.7,58.0 607.2,57.9 608.7,57.8 610.2,57.7 611.7,57.6 613.2,57.5 614.7,57.5 616.2,57.4 617.7,57.3 619.2,57.2 620.7,57.1 622.2,57.0 623.7,56.9 625.2,56.9 626.7,56.8 628.2,56.7 629.7,56.6 631.2,56.5 632.7,56.4 634.2,56.4 635.7,56.3 637.2,56.2 638.7,56.1 640.2,56.1 641.7,56.0 643.2,55.9 644.7,55.8 646.2,55.7 647.7,55.7 649.1,55.6 650.6,55.5 652.1,55.4 653.6,55.4 655.1,55.3 656.2,55.2"/>
<polyline fill="none" stroke="#000" stroke-width="1.0" stroke-linejoin="round" points="39.0,455.9 40.5,455.9 42.0,455.9 43.5,455.9 45.0,455.9 46.5,455.9 48.0,455.9 49.5,455.9 51.0,455.9 52.5,455.9 54.0,455.9 55.5,455.9 57.0,455.9 58.5,455.9 60.0,455.9 61.5,455.9 63.0,455.9 64.5,455.9 66.0,455.9 67.5,455.9 69.0,455.9 70.5,455.9 72.0,455.9 73.5,455.9 75.0,455.9 76.5,455.9 78.0,455.9 79.5,455.9 81.0,455.9 82.5,455.9 84.0,455.9 85.5,455.9 87.0,455.8 88.5,455.7 90.0,455.6 91.5,455.5 93.0,455.2 94.4,454.9 95.9,454.5 97.3,454.0 98.6,453.3 99.9,452.6 101.2,451.7 102.3,450.8 103.4,449.8 104.5,448.7 105.4,447.5 106.4,446.4 107.3,445.2 108.1,443.9 108.9,442.7 109.7,441.4 110.4,440.1 111.2,438.8 111.8,437.4 112.5,436.1 113.2,434.7 113.8,433.4 114.4,432.0 115.0,430.6 115.6,429.2 116.2,427.9 116.7,426.5 117.3,425.1 117.8,423.7 118.4,422.3 118.9,420.9 119.4,419.5 119.9,418.1 120.4,416.6 120.9,415.2 121.4,413.8 121.9,412.4 122.4,411.0 122.8,409.5 123.3,408.1 123.8,406.7 124.2,405.3 124.7,403.8 125.1,402.4 125.6,401.0 126.0,399.5 126.5,398.1 126.9,396.7 127.3,395.2 127.8,393.8 128.2,392.4 128.6,390.9 129.0,389.5 129.5,388.0 129.9,386.6 130.3,385.2 130.7,383.7 131.1,382.3 131.6,380.8 132.0,379.4 132.4,378.0 132.8,376.5 133.2,375.1 133.6,373.6 134.0,372.2 134.4,370.7 134.8,369.3 135.2,367.8 135.6,366.4 136.0,365.0 136.5,363.5 136.9,362.1 137.3,360.6 137.7,359.2 138.1,357.7 138.5,356.3 138.9,354.8 139.3,353.4 139.7,352.0 140.1,350.5 140.5,349.1 140.9,347.6 141.3,346.2 141.7,344.7 142.1,343.3 142.5,341.8 142.9,340.4 143.3,339.0 143.7,337.5 144.1,336.1 144.5,334.6 144.9,333.2 145.3,331.7 145.8,330.3 146.2,328.9 146.6,327.4 147.0,326.0 147.4,324.5 147.8,323.1 148.2,321.6 148.6,320.2 149.1,318.8 149.5,317.3 149.9,315.9 150.3,314.4 150.7,313.0 151.2,311.6 151.6,310.1 152.0,308.7 152.4,307.2 152.9,305.8 153.3,304.4 153.7,302.9 154.2,301.5 154.6,300.1 155.0,298.6 155.5,297.2 155.9,295.8 156.4,294.3 156.8,292.9 157.2,291.5 157.7,290.0 158.1,288.6 158.6,287.2 159.0,285.7 159.5,284.3 159.9,282.9 160.4,281.4 160.9,280.0 161.3,278.6 161.8,277.2 162.3,275.7 162.7,274.3 163.2,272.9 163.7,271.5 164.2,270.0 164.6,268.6 165.1,267.2 165.6,265.8 166.1,264.4 166.6,263.0 167.1,261.5 167.6,260.1 168.1,258.7 168.6,257.3 169.1,255.9 169.6,254.5 170.1,253.1 170.6,251.6 171.1,250.2 171.7,248.8 172.2,247.4 172.7,246.0 173.2,244.6 173.8,243.2 174.3,241.8 174.9,240.4 175.4,239.0 175.9,237.6 176.5,236.2 177.1,234.8 177.6,233.4 178.2,232.1 178.7,230.7 179.3,229.3 179.9,227.9 180.5,226.5 181.1,225.1 181.6,223.8 182.2,222.4 182.8,221.0 183.4,219.6 184.0,218.3 184.7,216.9 185.3,215.5 185.9,214.2 186.5,212.8 187.1,211.4 187.8,210.1 188.4,208.7 189.1,207.4 189.7,206.0 190.4,204.7 191.0,203.3 191.7,202.0 192.4,200.6 193.0,199.3 193.7,197.9 194.4,196.6 195.1,195.3 195.8,194.0 196.5,192.6 197.2,191.3 197.9,190.0 198.7,188.7 199.4,187.4 200.1,186.1 200.9,184.8 201.6,183.5 202.4,182.2 203.1,180.9 203.9,179.6 204.7,178.3 205.5,177.0 206.2,175.7 207.0,174.5 207.8,173.2 208.6,171.9 209.5,170.7 210.3,169.4 211.1,168.2 211.9,166.9 212.8,165.7 213.6,164.4 214.5,163.2 215.4,162.0 216.2,160.8 217.1,159.6 218.0,158.3 218.9,157.1 219.8,155.9 220.7,154.8 221.6,153.6 222.6,152.4 223.5,151.2 224.4,150.0 225.4,148.9 226.3,147.7 227.3,146.6 228.3,145.4 229.3,144.3 230.3,143.2 231.3,142.1 232.3,140.9 233.3,139.8 234.3,138.7 235.3,137.7 236.4,136.6 237.4,135.5 238.5,134.4 239.5,133.4 240.6,132.3 241.7,131.3 242.7,130.2 243.8,129.2 244.9,128.2 246.0,127.2 247.2,126.2 248.3,125.2 249.4,124.2 250.5,123.2 251.7,122.2 252.8,121.3 254.0,120.3 255.2,119.4 256.3,118.4 257.5,117.5 258.7,116.6 259.9,115.7 261.1,114.8 262.3,113.9 263.5,113.0 264.7,112.1 266.0,111.3 267.2,110.4 268.4,109.6 269.7,108.7 270.9,107.9 272.2,107.1 273.4,106.3 274.7,105.5 276.0,104.7 277.3,103.9 278.5,103.1 279.8,102.4 281.1,101.6 282.4,100.9 283.7,100.1 285.0,99.4 286.4,98.7 287.7,97.9 289.0,97.2 290.3,96.5 291.7,95.9 293.0,95.2 294.3,94.5 295.7,93.8 297.0,93.2 298.4,92.5 299.8,91.9 301.1,91.3 302.5,90.6 303.8,90.0 305.2,89.4 306.6,88.8 308.0,88.2 309.3,87.6 310.7,87.1 312.1,86.5 313.5,85.9 314.9,85.4 316.3,84.8 317.7,84.3 319.1,83.7 320.5,83.2 321.9,82.7 323.3,82.2 324.7,81.7 326.1,81.2 327.6,80.7 329.0,80.2 330.4,79.7 331.8,79.2 333.2,78.7 334.7,78.3 336.1,77.8 337.5,77.4 339.0,76.9 340.4,76.5 341.8,76.0 343.3,75.6 344.7,75.2 346.1,74.8 347.6,74.3 349.0,73.9 350.5,73.5 351.9,73.1 353.4,72.7 354.8,72.3 356.3,72.0 357.7,71.6 359.2,71.2 360.6,70.8 362.1,70.5 363.5,70.1 365.0,69.7 366.4,69.4 367.9,69.0 369.4,68.7 370.8,68.3 372.3,68.0 373.7,67.7 375.2,67.4 376.7,67.0 378.1,66.7 379.6,66.4 381.1,66.1 382.5,65.8 384.0,65.5 385.5,65.2 386.9,64.9 388.4,64.6 389.9,64.3 391.4,64.0 392.8,63.7 394.3,63.4 395.8,63.1 397.2,62.9 398.7,62.6 400.2,62.3 401.7,62.0 403.1,61.8 404.6,61.5 406.1,61.3 407.6,61.0 409.1,60.8 410.5,60.5 412.0,60.3 413.5,60.0 415.0,59.8 416.5,59.5 417.9,59.3 419.4,59.1 420.9,58.8 422.4,58.6 423.9,58.4 425.4,58.2 426.8,57.9 428.3,57.7 429.8,57.5 431.3,57.3 432.8,57.1 434.3,56.9 435.7,56.7 437.2,56.4 438.7,56.2 440.2,56.0 441.7,55.8 443.2,55.6 444.7,55.4 446.2,55.3 447.6,55.1 449.1,54.9 450.6,54.7 452.1,54.5 453.6,54.3 455.1,54.1 456.6,54.0 458.1,53.8 459.6,53.6 461.0,53.4 462.5,53.3 464.0,53.1 465.5,52.9 467.0,52.7 468.5,52.6 470.0,52.4 471.5,52.2 473.0,52.1 474.5,51.9 475.9,51.8 477.4,51.6 478.9,51.4 480.4,51.3 481.9,51.1 483.4,51.0 484.9,50.8 486.4,50.7 487.9,50.5 489.4,50.4 490.9,50.3 492.4,50.1 493.9,50.0 495.4,49.8 496.8,49.7 498.3,49.5 499.8,49.4 501.3,49.3 502.8,49.1 504.3,49.0 505.8,48.9 507.3,48.7 508.8,48.6 510.3,48.5 511.8,48.4 513.3,48.2 514.8,48.1 516.3,48.0 517.8,47.8 519.3,47.7 520.8,47.6 522.3,47.5 523.7,47.4 525.2,47.2 526.7,47.1 528.2,47.0 529.7,46.9 531.2,46.8 532.7,46.7 534.2,46.6 535.7,46.4 537.2,46.3 538.7,46.2 540.2,46.1 541.7,46.0 543.2,45.9 544.7,45.8 546.2,45.7 547.7,45.6 549.2,45.5 550.7,45.4 552.2,45.3 553.7,45.2 555.2,45.1 556.7,45.0 558.2,44.9 559.7,44.8 561.1,44.7 562.6,44.6 564.1,44.5 565.6,44.4 567.1,44.3 568.6,44.2 570.1,44.1 571.6,44.0 573.1,43.9 574.6,43.8 576.1,43.7 577.6,43.6 579.1,43.6 580.6,43.5 582.1,43.4 583.6,43.3 585.1,43.2 586.6,43.1 588.1,43.0 589.6,42.9 591.1,42.9 592.6,42.8 594.1,42.7 595.6,42.6 597.1,42.5 598.6,42.5 600.1,42.4 601.6,42.3 603.1,42.2 604.6,42.1 606.1,42.1 607.6,42.0 609.1,41.9 610.6,41.8 612.1,41.7 613.6,41.7 615.1,41.6 616.6,41.5 618.1,41.4 619.6,41.4 621.1,41.3 622.6,41.2 624.0,41.2 625.5,41.1 627.0,41.0 628.5,40.9 630.0,40.9 631.5,40.8 633.0,40.7 634.5,40.7 636.0,40.6 637.5,40.5 639.0,40.5 640.5,40.4 642.0,40.3 643.5,40.3 645.0,40.2 646.5,40.1 648.0,40.1 649.5,40.0 651.0,39.9 652.5,39.9 654.0,39.8 655.5,39.7 656.2,39.7"/>
<g fill="none" stroke="#000" stroke-width="1.0"><circle cx="39.00" cy="455.90" r="3.2"/><circle cx="42.09" cy="455.90" r="3.2"/><circle cx="45.17" cy="455.90" r="3.2"/><circle cx="48.26" cy="455.90" r="3.2"/><circle cx="51.34" cy="455.90" r="3.2"/><circle cx="54.43" cy="455.90" r="3.2"/><circle cx="57.52" cy="455.90" r="3.2"/><circle cx="60.60" cy="455.90" r="3.2"/><circle cx="63.69" cy="455.90" r="3.2"/><circle cx="66.77" cy="455.90" r="3.2"/><circle cx="69.86" cy="455.90" r="3.2"/><circle cx="72.95" cy="455.90" r="3.2"/><circle cx="76.03" cy="455.90" r="3.2"/><circle cx="79.12" cy="455.90" r="3.2"/><circle cx="82.20" cy="455.89" r="3.2"/><circle cx="85.29" cy="455.86" r="3.2"/><circle cx="88.38" cy="455.76" r="3.2"/><circle cx="91.46" cy="455.48" r="3.2"/><circle cx="94.55" cy="454.90" r="3.2"/><circle cx="97.63" cy="453.82" r="3.2"/><circle cx="100.72" cy="452.04" r="3.2"/><circle cx="103.81" cy="449.37" r="3.2"/><circle cx="106.89" cy="445.68" r="3.2"/><circle cx="109.98" cy="440.88" r="3.2"/><circle cx="113.06" cy="434.95" r="3.2"/><circle cx="116.15" cy="427.94" r="3.2"/><circle cx="119.24" cy="419.94" r="3.2"/><circle cx="122.32" cy="411.08" r="3.2"/><circle cx="125.41" cy="401.49" r="3.2"/><circle cx="128.49" cy="391.33" r="3.2"/><circle cx="131.58" cy="380.75" r="3.2"/><circle cx="134.67" cy="369.89" r="3.2"/><circle cx="137.75" cy="358.87" r="3.2"/><circle cx="140.84" cy="347.80" r="3.2"/><circle cx="143.92" cy="336.79" r="3.2"/><circle cx="147.01" cy="325.90" r="3.2"/><circle cx="150.10" cy="315.21" r="3.2"/><circle cx="153.18" cy="304.76" r="3.2"/><circle cx="156.27" cy="294.59" r="3.2"/><circle cx="159.35" cy="284.74" r="3.2"/><circle cx="162.44" cy="275.21" r="3.2"/><circle cx="165.53" cy="266.03" r="3.2"/><circle cx="168.61" cy="257.20" r="3.2"/><circle cx="171.70" cy="248.73" r="3.2"/><circle cx="174.78" cy="240.60" r="3.2"/><circle cx="177.87" cy="232.82" r="3.2"/><circle cx="180.96" cy="225.38" r="3.2"/><circle cx="184.04" cy="218.27" r="3.2"/><circle cx="187.13" cy="211.47" r="3.2"/><circle cx="190.21" cy="204.98" r="3.2"/><circle cx="193.30" cy="198.79" r="3.2"/><circle cx="196.39" cy="192.88" r="3.2"/><circle cx="199.47" cy="187.23" r="3.2"/><circle cx="202.56" cy="181.85" r="3.2"/><circle cx="205.64" cy="176.71" r="3.2"/><circle cx="208.73" cy="171.80" r="3.2"/><circle cx="211.82" cy="167.12" r="3.2"/><circle cx="214.90" cy="162.65" r="3.2"/><circle cx="217.99" cy="158.38" r="3.2"/><circle cx="221.07" cy="154.30" r="3.2"/><circle cx="224.16" cy="150.39" r="3.2"/><circle cx="227.25" cy="146.66" r="3.2"/><circle cx="230.33" cy="143.10" r="3.2"/><circle cx="233.42" cy="139.68" r="3.2"/><circle cx="236.50" cy="136.42" r="3.2"/><circle cx="239.59" cy="133.29" r="3.2"/><circle cx="242.68" cy="130.29" r="3.2"/><circle cx="245.76" cy="127.42" r="3.2"/><circle cx="248.85" cy="124.66" r="3.2"/><circle cx="251.93" cy="122.02" r="3.2"/><circle cx="255.02" cy="119.48" r="3.2"/><circle cx="258.11" cy="117.05" r="3.2"/><circle cx="261.19" cy="114.71" r="3.2"/><circle cx="264.28" cy="112.46" r="3.2"/><circle cx="267.36" cy="110.30" r="3.2"/><circle cx="270.45" cy="108.22" r="3.2"/><circle cx="273.54" cy="106.22" r="3.2"/><circle cx="276.62" cy="104.29" r="3.2"/><circle cx="279.71" cy="102.43" r="3.2"/><circle cx="282.79" cy="100.65" r="3.2"/><circle cx="285.88" cy="98.92" r="3.2"/><circle cx="288.97" cy="97.26" r="3.2"/><circle cx="292.05" cy="95.66" r="3.2"/><circle cx="295.14" cy="94.11" r="3.2"/><circle cx="298.22" cy="92.62" r="3.2"/><circle cx="301.31" cy="91.17" r="3.2"/><circle cx="304.40" cy="89.78" r="3.2"/><circle cx="307.48" cy="88.43" r="3.2"/><circle cx="310.57" cy="87.13" r="3.2"/><circle cx="313.65" cy="85.87" r="3.2"/><circle cx="316.74" cy="84.65" r="3.2"/><circle cx="319.83" cy="83.46" r="3.2"/><circle cx="322.91" cy="82.32" r="3.2"/><circle cx="326.00" cy="81.21" r="3.2"/><circle cx="329.08" cy="80.14" r="3.2"/><circle cx="332.17" cy="79.10" r="3.2"/><circle cx="335.26" cy="78.09" r="3.2"/><circle cx="338.34" cy="77.11" r="3.2"/><circle cx="341.43" cy="76.15" r="3.2"/><circle cx="344.51" cy="75.23" r="3.2"/><circle cx="347.60" cy="74.34" r="3.2"/><circle cx="350.69" cy="73.46" r="3.2"/><circle cx="353.77" cy="72.62" r="3.2"/><circle cx="356.86" cy="71.80" r="3.2"/><circle cx="359.94" cy="71.00" r="3.2"/><circle cx="363.03" cy="70.22" r="3.2"/><circle cx="366.12" cy="69.46" r="3.2"/><circle cx="369.20" cy="68.73" r="3.2"/><circle cx="372.29" cy="68.01" r="3.2"/><circle cx="375.37" cy="67.31" r="3.2"/><circle cx="378.46" cy="66.63" r="3.2"/><circle cx="381.55" cy="65.97" r="3.2"/><circle cx="384.63" cy="65.33" r="3.2"/><circle cx="387.72" cy="64.70" r="3.2"/><circle cx="390.80" cy="64.08" r="3.2"/><circle cx="393.89" cy="63.49" r="3.2"/><circle cx="396.98" cy="62.90" r="3.2"/><circle cx="400.06" cy="62.34" r="3.2"/><circle cx="403.15" cy="61.78" r="3.2"/><circle cx="406.23" cy="61.24" r="3.2"/><circle cx="409.32" cy="60.71" r="3.2"/><circle cx="412.41" cy="60.19" r="3.2"/><circle cx="415.49" cy="59.69" r="3.2"/><circle cx="418.58" cy="59.20" r="3.2"/><circle cx="421.66" cy="58.72" r="3.2"/><circle cx="424.75" cy="58.25" r="3.2"/><circle cx="427.84" cy="57.79" r="3.2"/><circle cx="430.92" cy="57.34" r="3.2"/><circle cx="434.01" cy="56.90" r="3.2"/><circle cx="437.09" cy="56.47" r="3.2"/><circle cx="440.18" cy="56.05" r="3.2"/><circle cx="443.27" cy="55.63" r="3.2"/><circle cx="446.35" cy="55.23" r="3.2"/><circle cx="449.44" cy="54.84" r="3.2"/><circle cx="452.52" cy="54.45" r="3.2"/><circle cx="455.61" cy="54.07" r="3.2"/><circle cx="458.70" cy="53.70" r="3.2"/><circle cx="461.78" cy="53.34" r="3.2"/><circle cx="464.87" cy="52.98" r="3.2"/><circle cx="467.95" cy="52.63" r="3.2"/><circle cx="471.04" cy="52.29" r="3.2"/><circle cx="474.13" cy="51.96" r="3.2"/><circle cx="477.21" cy="51.63" r="3.2"/><circle cx="480.30" cy="51.31" r="3.2"/><circle cx="483.38" cy="50.99" r="3.2"/><circle cx="486.47" cy="50.68" r="3.2"/><circle cx="489.56" cy="50.38" r="3.2"/><circle cx="492.64" cy="50.08" r="3.2"/><circle cx="495.73" cy="49.79" r="3.2"/><circle cx="498.81" cy="49.50" r="3.2"/><circle cx="501.90" cy="49.22" r="3.2"/><circle cx="504.99" cy="48.94" r="3.2"/><circle cx="508.07" cy="48.67" r="3.2"/><circle cx="511.16" cy="48.41" r="3.2"/><circle cx="514.24" cy="48.14" r="3.2"/><circle cx="517.33" cy="47.89" r="3.2"/><circle cx="520.42" cy="47.63" r="3.2"/><circle cx="523.50" cy="47.38" r="3.2"/><circle cx="526.59" cy="47.14" r="3.2"/><circle cx="529.67" cy="46.90" r="3.2"/><circle cx="532.76" cy="46.66" r="3.2"/><circle cx="535.85" cy="46.43" r="3.2"/><circle cx="538.93" cy="46.21" r="3.2"/><circle cx="542.02" cy="45.98" r="3.2"/><circle cx="545.10" cy="45.76" r="3.2"/><circle cx="548.19" cy="45.54" r="3.2"/><circle cx="551.28" cy="45.33" r="3.2"/><circle cx="554.36" cy="45.12" r="3.2"/><circle cx="557.45" cy="44.91" r="3.2"/><circle cx="560.53" cy="44.71" r="3.2"/><circle cx="563.62" cy="44.51" r="3.2"/><circle cx="566.71" cy="44.32" r="3.2"/><circle cx="569.79" cy="44.12" r="3.2"/><circle cx="572.88" cy="43.93" r="3.2"/><circle cx="575.96" cy="43.74" r="3.2"/><circle cx="579.05" cy="43.56" r="3.2"/><circle cx="582.14" cy="43.38" r="3.2"/><circle cx="585.22" cy="43.20" r="3.2"/><circle cx="588.31" cy="43.02" r="3.2"/><circle cx="591.39" cy="42.85" r="3.2"/><circle cx="594.48" cy="42.68" r="3.2"/><circle cx="597.57" cy="42.51" r="3.2"/><circle cx="600.65" cy="42.34" r="3.2"/><circle cx="603.74" cy="42.18" r="3.2"/><circle cx="606.82" cy="42.02" r="3.2"/><circle cx="609.91" cy="41.86" r="3.2"/><circle cx="613.00" cy="41.70" r="3.2"/><circle cx="616.08" cy="41.54" r="3.2"/><circle cx="619.17" cy="41.39" r="3.2"/><circle cx="622.25" cy="41.24" r="3.2"/><circle cx="625.34" cy="41.09" r="3.2"/><circle cx="628.43" cy="40.95" r="3.2"/><circle cx="631.51" cy="40.80" r="3.2"/><circle cx="634.60" cy="40.66" r="3.2"/><circle cx="637.68" cy="40.52" r="3.2"/><circle cx="640.77" cy="40.38" r="3.2"/><circle cx="643.86" cy="40.25" r="3.2"/><circle cx="646.94" cy="40.11" r="3.2"/><circle cx="650.03" cy="39.98" r="3.2"/><circle cx="653.11" cy="39.85" r="3.2"/><circle cx="656.20" cy="39.72" r="3.2"/></g>
<rect x="39.0" y="4.4" width="617.20" height="451.50" fill="none" stroke="#222" stroke-width="1.4"/>
<path d="M39.00 455.9V449.9M39.00 4.4V10.4M100.72 455.9V449.9M100.72 4.4V10.4M162.44 455.9V449.9M162.44 4.4V10.4M224.16 455.9V449.9M224.16 4.4V10.4M285.88 455.9V449.9M285.88 4.4V10.4M347.60 455.9V449.9M347.60 4.4V10.4M409.32 455.9V449.9M409.32 4.4V10.4M471.04 455.9V449.9M471.04 4.4V10.4M532.76 455.9V449.9M532.76 4.4V10.4M594.48 455.9V449.9M594.48 4.4V10.4M656.20 455.9V449.9M656.20 4.4V10.4M39.0 455.90H45.0M656.20 455.90H650.20M39.0 410.74H45.0M656.20 410.74H650.20M39.0 365.58H45.0M656.20 365.58H650.20M39.0 320.42H45.0M656.20 320.42H650.20M39.0 275.26H45.0M656.20 275.26H650.20M39.0 230.10H45.0M656.20 230.10H650.20M39.0 184.94H45.0M656.20 184.94H650.20M39.0 139.78H45.0M656.20 139.78H650.20M39.0 94.62H45.0M656.20 94.62H650.20M39.0 49.46H45.0M656.20 49.46H650.20M39.0 4.30H45.0M656.20 4.30H650.20" stroke="#222" stroke-width="1.2" fill="none"/>
<text x="39.00" y="470.00" text-anchor="middle" font-size="11">0</text><text x="100.72" y="470.00" text-anchor="middle" font-size="11"> </text><path d="M100.43 470.00 L100.43 463.36 L98.72 464.58 L98.72 463.66 L100.51 462.43 L101.40 462.43 L101.40 470.00Z" fill="#000" stroke="#000" stroke-width="0.25"/><text x="162.44" y="470.00" text-anchor="middle" font-size="11">2</text><text x="224.16" y="470.00" text-anchor="middle" font-size="11">3</text><text x="285.88" y="470.00" text-anchor="middle" font-size="11">4</text><text x="347.60" y="470.00" text-anchor="middle" font-size="11">5</text><text x="409.32" y="470.00" text-anchor="middle" font-size="11">6</text><text x="471.04" y="470.00" text-anchor="middle" font-size="11">7</text><text x="532.76" y="470.00" text-anchor="middle" font-size="11">8</text><text x="594.48" y="470.00" text-anchor="middle" font-size="11">9</text><text x="656.20" y="470.00" text-anchor="middle" font-size="11"> 0</text><path d="M652.85 470.00 L652.85 463.36 L651.14 464.58 L651.14 463.66 L652.93 462.43 L653.82 462.43 L653.82 470.00Z" fill="#000" stroke="#000" stroke-width="0.25"/><text x="35.30" y="460.50" text-anchor="end" font-size="11">0</text><text x="35.30" y="415.34" text-anchor="end" font-size="11">0. </text><path d="M31.95 415.34 L31.95 408.70 L30.24 409.92 L30.24 409.00 L32.03 407.77 L32.92 407.77 L32.92 415.34Z" fill="#000" stroke="#000" stroke-width="0.25"/><text x="35.30" y="370.18" text-anchor="end" font-size="11">0.2</text><text x="35.30" y="325.02" text-anchor="end" font-size="11">0.3</text><text x="35.30" y="279.86" text-anchor="end" font-size="11">0.4</text><text x="35.30" y="234.70" text-anchor="end" font-size="11">0.5</text><text x="35.30" y="189.54" text-anchor="end" font-size="11">0.6</text><text x="35.30" y="144.38" text-anchor="end" font-size="11">0.7</text><text x="35.30" y="99.22" text-anchor="end" font-size="11">0.8</text><text x="35.30" y="54.06" text-anchor="end" font-size="11">0.9</text><text x="35.30" y="8.90" text-anchor="end" font-size="11"> </text><path d="M31.95 8.90 L31.95 2.26 L30.24 3.48 L30.24 2.56 L32.03 1.33 L32.92 1.33 L32.92 8.90Z" fill="#000" stroke="#000" stroke-width="0.25"/>
<text x="631.80" y="487.20" font-size="11">x  0</text><path d="M643.12 487.20 L643.12 480.56 L641.41 481.78 L641.41 480.86 L643.20 479.63 L644.09 479.63 L644.09 487.20Z" fill="#000" stroke="#000" stroke-width="0.25"/><text x="652.2" y="480.7" font-size="6.6">4</text>
<text x="348.4" y="487" text-anchor="middle" font-size="12.5">Willingness to pay per QALY</text>
<text transform="translate(9.7,229.7) rotate(-90)" text-anchor="middle" font-size="12.5">Probability cost&#8211;effective</text>
<line x1="427.3" y1="138.8" x2="459.6" y2="138.8" stroke="#444" stroke-width="1.3"/>
<text x="463.3" y="142.5" font-size="10.8">baseline</text>
<line x1="427.3" y1="152.4" x2="459.6" y2="152.4" stroke="#3a3a3a" stroke-width="1.25" stroke-dasharray="6.7 6.4"/>
<text x="463.3" y="156.1" font-size="10.8">high LC prob</text>
<line x1="427.3" y1="166.0" x2="459.6" y2="166.0" stroke="#444" stroke-width="1.3"/>
<text x="463.3" y="169.7" font-size="10.8">low LC prob</text>
<line x1="427.3" y1="179.6" x2="460.2" y2="179.6" stroke="#3a3a3a" stroke-width="1.25" stroke-dasharray="1 3.5 7 4.4"/>
<text x="463.3" y="183.3" font-size="10.8">higher costs (20%)</text>
<line x1="427.3" y1="193.2" x2="459.6" y2="193.2" stroke="#3a3a3a" stroke-width="1.25" stroke-dasharray="1 3.9"/>
<text x="463.3" y="196.9" font-size="10.8">alternative QoL indexes</text>
<circle cx="443.5" cy="166.0" r="3.0" fill="none" stroke="#000" stroke-width="0.9"/>
</svg></body></html>
